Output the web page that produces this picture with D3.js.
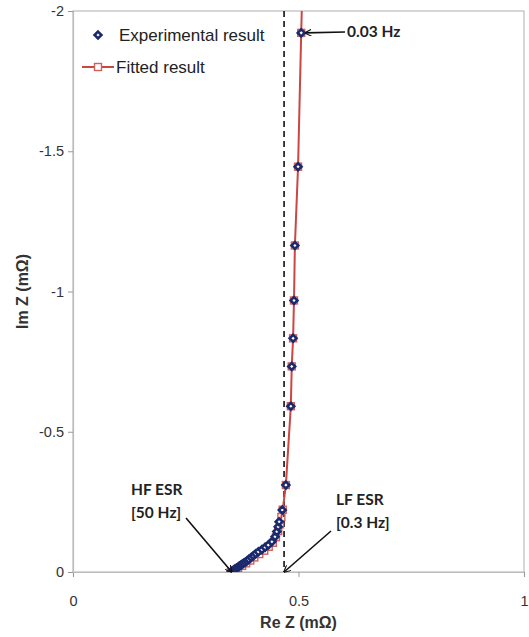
<!DOCTYPE html>
<html>
<head>
<meta charset="utf-8">
<script src="https://cdn.jsdelivr.net/npm/d3@7"></script>
<style>
    body { margin: 0; background: #fff; }
    svg { display: block; }
</style>
</head>
<body>
<div id="chart"></div>
<script>
// Experimental impedance points (Re Z, Im Z in mOhm)
var expRe = [0.351, 0.354, 0.357, 0.360, 0.363, 0.366, 0.369, 0.372, 0.375, 0.378, 0.382, 0.386,
             0.390, 0.395, 0.400, 0.405, 0.411, 0.419, 0.426, 0.433, 0.441, 0.448, 0.452, 0.455,
             0.457, 0.464, 0.472, 0.483, 0.485, 0.488, 0.490, 0.492, 0.499, 0.506];
var expIm = [-0.001, -0.004, -0.008, -0.011, -0.014, -0.017, -0.021, -0.024, -0.028, -0.031, -0.035, -0.040,
             -0.045, -0.052, -0.058, -0.065, -0.072, -0.080, -0.088, -0.096, -0.108, -0.126, -0.144, -0.161,
             -0.179, -0.221, -0.310, -0.591, -0.733, -0.833, -0.968, -1.164, -1.445, -1.922];

// Fitted model points
var fitRe = [0.350, 0.358, 0.366, 0.375, 0.384, 0.393, 0.402, 0.413, 0.424, 0.434, 0.443, 0.450,
             0.455, 0.459, 0.462, 0.465, 0.472, 0.483, 0.485, 0.488, 0.490, 0.492, 0.499, 0.506, 0.508];
var fitIm = [0.000, -0.006, -0.014, -0.022, -0.031, -0.041, -0.052, -0.064, -0.076, -0.090, -0.104, -0.124,
             -0.146, -0.170, -0.196, -0.222, -0.310, -0.591, -0.733, -0.833, -0.968, -1.164, -1.445, -1.922, -2.05];

// Axis ticks
var xTicks = [0, 0.5, 1];
var yTicks = [0, -0.5, -1, -1.5, -2];

// Frequency annotations
var notes = [
    { lines: ['HF ESR', '[50 Hz]'], tx: 131, ty: 490, from: [186, 518], to: [0.352, 0] },
    { lines: ['LF ESR', '[0.3 Hz]'], tx: 336, ty: 500, from: [331, 531], to: [0.468, 0] },
    { lines: ['0.03 Hz'], tx: 347, ty: 32, from: [345, 32], to: [0.515, -1.922] }
];
var esrLine = 0.468;

var width = 529, height = 637,
    margin = { top: 11, right: 5, bottom: 65, left: 73 },
    plotW = width - margin.left - margin.right,
    plotH = height - margin.top - margin.bottom;

var svg = d3.select('#chart').append('svg')
    .attr('width', width)
    .attr('height', height);

// Scales: Re Z along x, Im Z along y (negative values up)
var xScale = d3.scaleLinear().domain([0, 1]).range([0, plotW]);
var yScale = d3.scaleLinear().domain([0, -2]).range([plotH, 0]);

var g = svg.append('g')
    .attr('transform', 'translate(' + margin.left + ',' + margin.top + ')');

svg.append('defs').append('clipPath').attr('id', 'clip')
    .append('rect').attr('width', plotW).attr('height', plotH);

// Plot area border
g.append('rect')
    .attr('width', plotW)
    .attr('height', plotH)
    .attr('fill', 'none')
    .attr('stroke', '#bcbcbc')
    .attr('stroke-width', 1.2);

// X axis
var xAxis = g.append('g')
    .attr('transform', 'translate(0,' + plotH + ')')
    .call(d3.axisBottom(xScale).tickValues(xTicks).tickSize(5).tickPadding(19)
        .tickFormat(d3.format('')));
// Y axis
var yAxis = g.append('g')
    .call(d3.axisLeft(yScale).tickValues(yTicks).tickSize(5).tickPadding(4)
        .tickFormat(function(d) { return d === 0 ? '0' : String(d); }));

[xAxis, yAxis].forEach(function(ax) {
    ax.select('.domain').attr('stroke', '#bcbcbc').attr('stroke-width', 1.2);
    ax.selectAll('.tick line').attr('stroke', '#999');
    ax.selectAll('.tick text')
        .attr('font-family', 'Arial, "Liberation Sans", sans-serif')
        .attr('font-size', '14.5px')
        .attr('fill', '#333');
});

// Axis titles
svg.append('text')
    .attr('x', margin.left + xScale(0.5))
    .attr('y', 628)
    .attr('text-anchor', 'middle')
    .attr('font-family', 'Arial, "Liberation Sans", sans-serif')
    .attr('font-weight', 'bold')
    .attr('font-size', '16px')
    .attr('fill', '#333')
    .text('Re Z (mΩ)');

svg.append('text')
    .attr('transform', 'translate(28,' + (margin.top + yScale(-1)) + ') rotate(-90)')
    .attr('text-anchor', 'middle')
    .attr('font-family', 'Arial, "Liberation Sans", sans-serif')
    .attr('font-weight', 'bold')
    .attr('font-size', '16px')
    .attr('fill', '#333')
    .text('Im Z (mΩ)');

// Dashed LF ESR guide line
g.append('line')
    .attr('x1', xScale(esrLine)).attr('x2', xScale(esrLine))
    .attr('y1', 0).attr('y2', plotH)
    .attr('stroke', '#111')
    .attr('stroke-width', 1.6)
    .attr('stroke-dasharray', '6,4');

var plot = g.append('g').attr('clip-path', 'url(#clip)');

// Fitted line and square markers
var fitData = fitRe.map(function(d, i) { return [d, fitIm[i]]; });
plot.append('path')
    .datum(fitData)
    .attr('fill', 'none')
    .attr('stroke', '#cc4644')
    .attr('stroke-width', 2)
    .attr('d', d3.line()
        .x(function(d) { return xScale(d[0]); })
        .y(function(d) { return yScale(d[1]); }));

plot.selectAll('rect.fit')
    .data(fitData)
    .enter()
    .append('rect')
    .classed('fit', true)
    .attr('x', function(d) { return xScale(d[0]) - 3.5; })
    .attr('y', function(d) { return yScale(d[1]) - 3.5; })
    .attr('width', 7).attr('height', 7)
    .attr('fill', 'none')
    .attr('stroke', '#d0605c')
    .attr('stroke-width', 1.4);

// Experimental diamonds
var diamond = d3.symbol().type(d3.symbolDiamond2).size(30);
plot.selectAll('path.exp')
    .data(expRe.map(function(d, i) { return [d, expIm[i]]; }))
    .enter()
    .append('path')
    .classed('exp', true)
    .attr('d', diamond)
    .attr('transform', function(d) {
        return 'translate(' + xScale(d[0]) + ',' + yScale(d[1]) + ')';
    })
    .attr('fill', '#fff')
    .attr('stroke', '#1b2a6e')
    .attr('stroke-width', 2.6);

// Arrowhead marker
svg.select('defs').append('marker')
    .attr('id', 'arrow')
    .attr('viewBox', '0 0 10 10')
    .attr('refX', 9).attr('refY', 5)
    .attr('markerWidth', 7).attr('markerHeight', 7)
    .attr('markerUnits', 'userSpaceOnUse')
    .attr('orient', 'auto')
    .append('path')
    .attr('d', 'M0,0 L10,5 L0,10')
    .attr('fill', 'none')
    .attr('stroke', '#111')
    .attr('stroke-width', 1.6);

// Annotations
notes.forEach(function(n) {
    var t = svg.append('text')
        .attr('font-family', 'Lato, "Open Sans", sans-serif')
        .attr('font-weight', 'bold')
        .attr('font-size', '15.5px')
        .attr('fill', '#222');
    n.lines.forEach(function(s, i) {
        t.append('tspan')
            .attr('x', n.tx)
            .attr('y', n.ty + i * 23)
            .attr('dy', '0.35em')
            .text(s);
    });
    svg.append('line')
        .attr('x1', n.from[0]).attr('y1', n.from[1])
        .attr('x2', margin.left + xScale(n.to[0]))
        .attr('y2', margin.top + yScale(n.to[1]))
        .attr('stroke', '#111')
        .attr('stroke-width', 1.6)
        .attr('marker-end', 'url(#arrow)');
});

// Legend
var legend = svg.append('g').attr('transform', 'translate(82,35)');
legend.append('path')
    .attr('d', diamond)
    .attr('transform', 'translate(16,0)')
    .attr('fill', '#fff')
    .attr('stroke', '#1b2a6e')
    .attr('stroke-width', 2.6);
legend.append('line')
    .attr('x1', 0).attr('x2', 32).attr('y1', 32).attr('y2', 32)
    .attr('stroke', '#cc4644').attr('stroke-width', 2);
legend.append('rect')
    .attr('x', 12.5).attr('y', 28.5).attr('width', 7).attr('height', 7)
    .attr('fill', '#fff').attr('stroke', '#d0605c').attr('stroke-width', 1.4);
legend.selectAll('text.leg')
    .data(['Experimental result', 'Fitted result'])
    .enter()
    .append('text')
    .classed('leg', true)
    .attr('x', function(d, i) { return i === 0 ? 37 : 34; })
    .attr('y', function(d, i) { return i * 32; })
    .attr('dy', '0.35em')
    .attr('font-family', 'Arial, "Liberation Sans", sans-serif')
    .attr('font-size', '17px')
    .attr('fill', '#222')
    .text(function(d) { return d; });
</script>
</body>
</html>
